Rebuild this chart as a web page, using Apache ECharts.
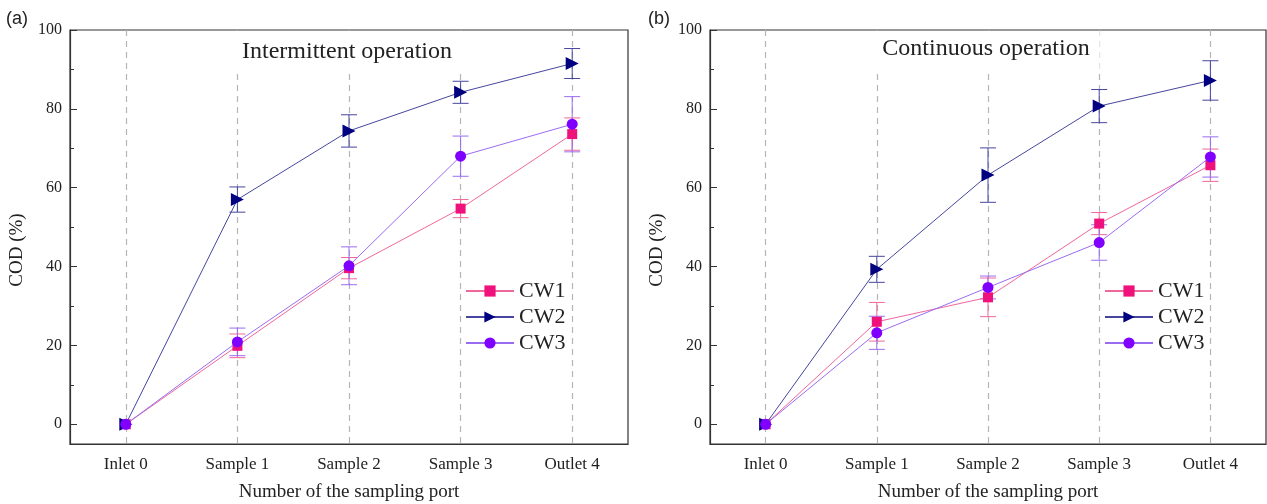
<!DOCTYPE html>
<html>
<head>
<meta charset="utf-8">
<script src="https://cdn.jsdelivr.net/npm/echarts@6/dist/echarts.min.js"></script>
<style>
html, body { margin: 0; padding: 0; background: #fff; }
#chart { width: 1267px; height: 504px; }
</style>
</head>
<body>
<div id="chart"></div>
<script>
// sampling ports
var ports = ['Inlet 0', 'Sample 1', 'Sample 2', 'Sample 3', 'Outlet 4'];
var seriesNames = ['CW1', 'CW2', 'CW3'];
var yMajor = [0, 20, 40, 60, 80, 100];
var yMinor = [10, 30, 50, 70, 90];

// (a) intermittent operation, COD removal (%)
var intCW1 = [0, 19.9, 39.6, 54.7, 73.6];
var intCW2 = [0, 57.0, 74.4, 84.2, 91.5];
var intCW3 = [0, 20.9, 40.2, 68.0, 76.1];
var intCW1Err = [0, 3.0, 2.7, 2.3, 4.1];
var intCW2Err = [0, 3.2, 4.1, 2.8, 3.8];
var intCW3Err = [0, 3.5, 4.8, 5.1, 7.0];

// (b) continuous operation
var conCW1 = [0, 26.0, 32.2, 50.9, 65.7];
var conCW2 = [0, 39.3, 63.2, 80.7, 87.2];
var conCW3 = [0, 23.2, 34.7, 46.1, 67.8];
var conCW1Err = [0, 4.9, 4.9, 2.8, 4.1];
var conCW2Err = [0, 3.3, 6.9, 4.2, 5.0];
var conCW3Err = [0, 4.2, 2.9, 4.5, 5.1];

var markerColors = ['#f0127c', '#000080', '#8000ff'];
var lineColors = ['#f0679b', '#46469e', '#9a6cf2'];
var symbols = ['rect', 'triangle', 'circle'];
var symbolSizes = [10, 13, 11];
var symbolRotates = [0, -90, 0];

var serif = '"Liberation Serif", "Times New Roman", serif';

function errData(vals, errs) {
    var out = [];
    for (var i = 0; i < vals.length; i++) {
        if (errs[i] > 0) out.push([i, vals[i] - errs[i], vals[i] + errs[i]]);
    }
    return out;
}

function renderErrorBar(params, api) {
    var x = api.value(0);
    var lo = api.coord([x, api.value(1)]);
    var hi = api.coord([x, api.value(2)]);
    var w = 8;
    var style = { stroke: api.visual('color'), lineWidth: 1 };
    return {
        type: 'group',
        children: [
            { type: 'line', shape: { x1: lo[0], y1: lo[1], x2: hi[0], y2: hi[1] }, style: style },
            { type: 'line', shape: { x1: lo[0] - w, y1: lo[1], x2: lo[0] + w, y2: lo[1] }, style: style },
            { type: 'line', shape: { x1: hi[0] - w, y1: hi[1], x2: hi[0] + w, y2: hi[1] }, style: style }
        ]
    };
}

function xAxisFor(gi) {
    return {
        type: 'category',
        gridIndex: gi,
        data: ports,
        boundaryGap: true,
        name: 'Number of the sampling port',
        nameLocation: 'middle',
        nameGap: 39,
        nameTextStyle: { fontFamily: serif, fontSize: 19, color: '#222' },
        axisLine: { onZero: false, lineStyle: { color: '#333', width: 1.2 } },
        axisTick: { alignWithLabel: true, inside: true, length: 6, lineStyle: { color: '#333' } },
        axisLabel: { fontFamily: serif, fontSize: 17, color: '#222', margin: 12 },
        splitLine: { show: true, alignWithLabel: true, lineStyle: { color: '#b5b5b5', type: [6, 5], width: 1.2 } }
    };
}

function yAxesFor(gi) {
    return [{
        type: 'value',
        gridIndex: gi,
        min: -5,
        max: 100,
        axisLine: { show: true, lineStyle: { color: '#333', width: 1.2 } },
        axisTick: { show: true, inside: true, length: 7, customValues: yMajor, lineStyle: { color: '#333' } },
        axisLabel: { fontFamily: serif, fontSize: 16, color: '#222', margin: 8, customValues: yMajor },
        splitLine: { show: false }
    }, {
        type: 'value',
        gridIndex: gi,
        min: -5,
        max: 100,
        position: 'left',
        axisLine: { show: false },
        axisTick: { show: true, inside: true, length: 4, customValues: yMinor, lineStyle: { color: '#333' } },
        axisLabel: { show: false },
        splitLine: { show: false }
    }];
}

function panelSeries(gi, vals, errs) {
    var out = [];
    for (var k = 0; k < 3; k++) {
        out.push({
            name: seriesNames[k] + ' error',
            type: 'custom',
            xAxisIndex: gi,
            yAxisIndex: gi * 2,
            renderItem: renderErrorBar,
            itemStyle: { color: lineColors[k] },
            data: errData(vals[k], errs[k]),
            z: 1
        });
    }
    for (var k2 = 0; k2 < 3; k2++) {
        out.push({
            name: seriesNames[k2],
            type: 'line',
            xAxisIndex: gi,
            yAxisIndex: gi * 2,
            data: vals[k2],
            symbol: symbols[k2],
            symbolSize: symbolSizes[k2],
            symbolRotate: symbolRotates[k2],
            showAllSymbol: true,
            lineStyle: { color: lineColors[k2], width: 1 },
            itemStyle: { color: markerColors[k2] },
            z: 2 + k2
        });
    }
    return out;
}

function legendFor(left) {
    return {
        data: seriesNames,
        orient: 'vertical',
        left: left,
        top: 275,
        itemWidth: 48,
        itemHeight: 14,
        itemGap: 4,
        textStyle: { fontFamily: serif, fontSize: 22, color: '#222' }
    };
}

function yNameText(x, y) {
    return {
        type: 'text', x: x, y: y, rotation: Math.PI / 2,
        style: { text: 'COD (%)', font: '19px ' + serif, fill: '#222', align: 'center', verticalAlign: 'middle' }
    };
}

var dom = document.getElementById('chart');
var myChart = echarts.init(dom);
var option = {
    animation: false,
    backgroundColor: '#fff',
    title: [{
        text: 'Intermittent operation',
        left: 337,
        top: 31,
        textAlign: 'center',
        backgroundColor: '#fff',
        padding: [9, 10, 6, 10],
        textStyle: { fontFamily: serif, fontSize: 24, fontWeight: 'normal', color: '#222' }
    }, {
        text: 'Continuous operation',
        left: 976,
        top: 31,
        textAlign: 'center',
        backgroundColor: '#fff',
        padding: [6, 10, 8, 10],
        textStyle: { fontFamily: serif, fontSize: 24, fontWeight: 'normal', color: '#222' }
    }],
    graphic: [
        { type: 'text', left: 6, top: 10, style: { text: '(a)', font: '18px "Liberation Sans", Arial, sans-serif', fill: '#222' } },
        { type: 'text', left: 648, top: 10, style: { text: '(b)', font: '18px "Liberation Sans", Arial, sans-serif', fill: '#222' } },
        yNameText(17, 250),
        yNameText(657, 250)
    ],
    legend: [legendFor(460), legendFor(1099)],
    grid: [
        { left: 70, top: 30, width: 558, height: 414, outerBoundsMode: 'none', show: true, borderColor: '#333', borderWidth: 1.2 },
        { left: 710, top: 30, width: 556, height: 414, outerBoundsMode: 'none', show: true, borderColor: '#333', borderWidth: 1.2 }
    ],
    xAxis: [xAxisFor(0), xAxisFor(1)],
    yAxis: yAxesFor(0).concat(yAxesFor(1)),
    series: panelSeries(0, [intCW1, intCW2, intCW3], [intCW1Err, intCW2Err, intCW3Err])
        .concat(panelSeries(1, [conCW1, conCW2, conCW3], [conCW1Err, conCW2Err, conCW3Err]))
};
if (option && typeof option === "object") {
    myChart.setOption(option, true);
}
</script>
</body>
</html>
